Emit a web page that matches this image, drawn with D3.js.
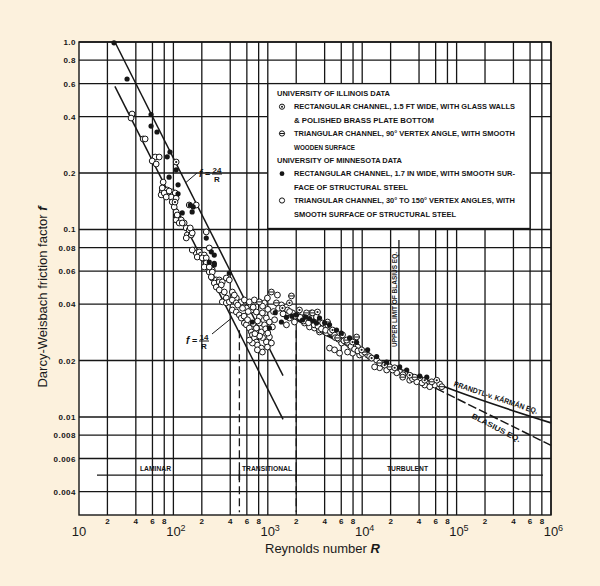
<!DOCTYPE html>
<html>
<head>
<meta charset="utf-8">
<script src="https://cdn.jsdelivr.net/npm/d3@7"></script>
<style>
  html, body { margin: 0; padding: 0; background: #fcf1dd; }
  svg { display: block; }
  .small { font-family: "Liberation Sans", Arial, sans-serif; font-weight: bold; font-size: 8px; fill: #151515; }
  .big { font-family: "Liberation Sans", Arial, sans-serif; fill: #1a1a1a; }
</style>
</head>
<body>
<script>
// Axis ticks
const decades = [10, 100, 1e3, 1e4, 1e5, 1e6];
const decadeSup = ["", "2", "3", "4", "5", "6"];
const minorMult = [2, 4, 6, 8];
const yTicks = [1.0, 0.8, 0.6, 0.4, 0.2, 0.1, 0.08, 0.06, 0.04, 0.02, 0.01, 0.008, 0.006, 0.004];
const yTickLabels = ["1.0", "0.8", "0.6", "0.4", "0.2", "0.1", "0.08", "0.06", "0.04", "0.02", "0.01", "0.008", "0.006", "0.004"];

// University of Minnesota, rectangular channel (filled dots)
const mnRect = [
  [23.5, 0.99], [32.3, 0.635], [58, 0.41], [58, 0.356], [67, 0.331], [86, 0.244], [92, 0.259],
  [107, 0.208], [90, 0.19], [112, 0.155], [112, 0.173], [151, 0.135], [162, 0.132], [124, 0.1225],
  [158, 0.124], [223, 0.09], [252, 0.076], [271, 0.073], [240, 0.067], [271, 0.066], [391, 0.0586],
  [271, 0.0647], [686, 0.0321], [1040, 0.0298], [1394, 0.0321], [2012, 0.035], [2330, 0.0329],
  [3280, 0.0317], [3530, 0.0337], [5348, 0.0291], [7348, 0.0264], [11413, 0.0228], [18156, 0.0196],
  [29600, 0.0178], [48290, 0.0163], [1576, 0.034], [2765, 0.0335], [4507, 0.031], [8723, 0.025],
  [14221, 0.021], [24950, 0.0185], [40680, 0.0165], [1200, 0.036], [1800, 0.0345], [2500, 0.0342],
  [3000, 0.0325], [4000, 0.0318], [6000, 0.028]
];

// University of Illinois, rectangular channel (circle with dot)
const ilRect = [
  [107, 0.229], [104, 0.14], [1696, 0.0406], [2165, 0.0372], [4851, 0.0291], [6193, 0.0274],
  [7911, 0.0251], [9854, 0.0228], [12587, 0.0206], [17290, 0.0189], [22080, 0.0183], [31860, 0.0167],
  [45960, 0.0157], [61640, 0.0157], [3361, 0.0363], [1429, 0.0381]
];

// University of Illinois, triangular channel (circle with bar)
const ilTri = [
  [1092, 0.0464], [1780, 0.0442], [2975, 0.0359], [4293, 0.0321], [5482, 0.0264], [6831, 0.0257],
  [10605, 0.0222], [15299, 0.0194], [19540, 0.0185], [26850, 0.0163], [36000, 0.0163], [54540, 0.0154],
  [69650, 0.0145], [2569, 0.0359], [8723, 0.0267], [814, 0.0411], [1234, 0.0406]
];

// University of Minnesota, triangular channel (open circles)
const mnTri = [
  [36.5, 0.413], [35.6, 0.393], [47.8, 0.304], [50.2, 0.304], [64.1, 0.2435], [70.7, 0.2435],
  [59.6, 0.232], [65.7, 0.2235], [77.9, 0.179], [76.1, 0.1604], [86, 0.1624], [97, 0.1585],
  [104.5, 0.1565], [74.2, 0.153], [94.8, 0.149], [107, 0.147], [76.1, 0.1665], [79.9, 0.1565],
  [90.2, 0.1604], [83.9, 0.149], [97.1, 0.1402], [102, 0.1318], [107, 0.124], [109.7, 0.1166],
  [107, 0.1124], [121, 0.1124], [130, 0.1083], [136.8, 0.1019], [147.1, 0.0994], [140.1, 0.0935],
  [154.5, 0.0935], [136.8, 0.0901], [158.3, 0.0958], [147.1, 0.1351], [174.6, 0.1351], [222.9, 0.097],
  [166.3, 0.0777], [174.6, 0.0749], [187.9, 0.0759], [197.3, 0.0731], [178.9, 0.0713], [212.3, 0.0731],
  [202.2, 0.0705], [222.9, 0.0705], [239.9, 0.0797], [222.9, 0.0663], [228.5, 0.0631], [239.9, 0.0593],
  [258.1, 0.0608], [258.1, 0.0551], [284.7, 0.0538], [306.4, 0.0538], [271.1, 0.0518], [306.4, 0.0525],
  [329.6, 0.0525], [363.5, 0.0551], [391.2, 0.0538], [284.7, 0.0493], [321.7, 0.0506], [464.2, 0.0431],
  [363.5, 0.0431], [421, 0.0464], [109.7, 0.1195], [115.2, 0.1083], [124, 0.1083], [150.8, 0.1019],
  [158.3, 0.0777], [212.3, 0.0631], [239.9, 0.0631], [258.1, 0.0593], [251.9, 0.0558], [306.4, 0.0476],
  [346.2, 0.0464],
  [329.6, 0.0411], [363.5, 0.0406], [391.2, 0.0411], [421, 0.0421], [442.1, 0.0447], [464.2, 0.0406],
  [524.5, 0.0411], [564.4, 0.0421], [637.9, 0.0411], [720.7, 0.0421], [920.3, 0.0406], [990.4, 0.0431],
  [1394, 0.0396], [421, 0.0372], [464.2, 0.0363], [499.4, 0.035], [524.5, 0.0337], [564.4, 0.0317],
  [592.7, 0.031], [637.9, 0.0298], [669.8, 0.0284], [686.4, 0.0274], [720.7, 0.0264], [756.8, 0.0251],
  [775.5, 0.0242], [855.1, 0.0233], [876.4, 0.0222], [775.5, 0.0228], [686.4, 0.0248], [637.9, 0.0257],
  [966.3, 0.0251], [1040, 0.0267], [990.4, 0.0236], [1092, 0.0248], [592.7, 0.0381], [669.8, 0.0372],
  [756.8, 0.0363], [814.4, 0.0341], [876.4, 0.0359], [966.3, 0.0337], [1040, 0.0321], [1119, 0.0302],
  [920.3, 0.031], [814.4, 0.0317], [855.1, 0.0284], [756.8, 0.0298], [1615, 0.0372], [1825, 0.0359],
  [2062, 0.035], [2447, 0.0341], [2633, 0.0329], [2903, 0.0359], [3280, 0.0337], [1696, 0.0337],
  [1916, 0.0321], [1576, 0.031], [2447, 0.0317], [2765, 0.0302], [3123, 0.0298], [3530, 0.0284],
  [1265, 0.0447], [3280, 0.0341], [2903, 0.0321], [3799, 0.0302], [3530, 0.0291], [4188, 0.0281],
  [5093, 0.0274], [6044, 0.0248], [7348, 0.0242], [8938, 0.0236], [9385, 0.0214], [7911, 0.0219],
  [6998, 0.0222], [4507, 0.0233], [5093, 0.0228], [5756, 0.0219], [11413, 0.0214], [14221, 0.0201],
  [24950, 0.0174], [28190, 0.0172], [40680, 0.0161], [58700, 0.0148], [15299, 0.0183], [18156, 0.0178],
  [13540, 0.0185], [23190, 0.0172], [31860, 0.0157], [37800, 0.0154], [45960, 0.0148], [51940, 0.0145],
  [4293, 0.0291], [3799, 0.0317],
  [1300, 0.038], [1450, 0.0355], [1700, 0.0365], [1950, 0.0345], [2200, 0.034], [2400, 0.0325],
  [2700, 0.0318], [3100, 0.031], [3400, 0.0305], [3700, 0.0295], [4100, 0.029], [4600, 0.0285],
  [5200, 0.0265], [5600, 0.026], [6400, 0.0255], [7000, 0.025], [7600, 0.0238], [8300, 0.023],
  [9000, 0.0225], [10000, 0.0218], [12000, 0.021], [16500, 0.0192], [21000, 0.0178], [27000, 0.0168],
  [34000, 0.016], [43000, 0.0152], [66000, 0.015],
  [480, 0.0395], [540, 0.038], [620, 0.0365], [700, 0.0385], [880, 0.039], [1000, 0.0375],
  [1150, 0.0365], [560, 0.0345], [610, 0.033], [700, 0.0315], [780, 0.0325], [950, 0.0295],
  [880, 0.0265], [820, 0.027], [730, 0.0278], [1000, 0.028], [1180, 0.033]
];

// Theory lines
const lam24 = [[24, 1.0], [1450, 0.0166]];
const lam14 = [[24, 0.58], [1450, 0.0097]];
const prandtl = [[2000, 0.0329], [1e4, 0.022], [1e5, 0.0137], [1e6, 0.0093]];
const blasius = [[2000, 0.0333], [1e6, 0.00705]];

// Regime markers
const regimeF = 0.0049;
const regimeSpan = [15.5, 8.2e5];
const regimeBounds = [500, 2000];
const regimeLabels = [["LAMINAR", 140, 31], ["TRANSITIONAL", 242, 50], ["TURBULENT", 387, 41]];
const blasiusLimitR = 24500;

const legendLines = [
  ["UNIVERSITY OF ILLINOIS DATA", null, 113],
  ["RECTANGULAR CHANNEL, 1.5 FT WIDE, WITH GLASS WALLS", "ilRect", 221],
  ["& POLISHED BRASS PLATE BOTTOM", "", 140],
  ["TRIANGULAR CHANNEL, 90° VERTEX ANGLE, WITH SMOOTH", "ilTri", 221],
  ["WOODEN SURFACE", "", 61],
  ["UNIVERSITY OF MINNESOTA DATA", null, 125],
  ["RECTANGULAR CHANNEL, 1.7 IN WIDE, WITH SMOOTH SUR-", "mnRect", 221],
  ["FACE OF STRUCTURAL STEEL", "", 114],
  ["TRIANGULAR CHANNEL, 30° TO 150° VERTEX ANGLES, WITH", "mnTri", 221],
  ["SMOOTH SURFACE OF STRUCTURAL STEEL", "", 162]
];

const w = 600, h = 586;
const ink = "#161616";

const svg = d3.select("body").append("svg")
  .attr("width", w)
  .attr("height", h);

svg.append("rect").attr("width", w).attr("height", h).attr("fill", "#fcf1dd");

const x = d3.scaleLog().domain([10, 1e6]).range([79, 551]);
const y = d3.scaleLog().domain([0.003, 1]).range([515, 42]);

// plot area
svg.append("rect")
  .attr("x", x(10)).attr("y", y(1))
  .attr("width", x(1e6) - x(10)).attr("height", y(0.003) - y(1))
  .attr("fill", "#fff");

// grid
const xGrid = [];
decades.slice(0, -1).forEach(d => {
  minorMult.forEach(m => xGrid.push(d * m));
  xGrid.push(d * 10);
});

svg.append("g").selectAll("line")
  .data(xGrid)
  .enter().append("line")
  .attr("x1", d => x(d)).attr("x2", d => x(d))
  .attr("y1", y(1)).attr("y2", y(0.003))
  .attr("stroke", ink).attr("stroke-width", 1.3);

svg.append("g").selectAll("line")
  .data(yTicks)
  .enter().append("line")
  .attr("x1", x(10)).attr("x2", x(1e6))
  .attr("y1", d => y(d)).attr("y2", d => y(d))
  .attr("stroke", ink).attr("stroke-width", 1.4);

// border
svg.append("rect")
  .attr("x", x(10)).attr("y", y(1))
  .attr("width", x(1e6) - x(10)).attr("height", y(0.003) - y(1))
  .attr("fill", "none").attr("stroke", ink).attr("stroke-width", 1.4);

// y tick labels
svg.append("g").selectAll("text")
  .data(yTicks)
  .enter().append("text")
  .attr("class", "small")
  .attr("x", x(10) - 3)
  .attr("y", d => y(d) + 3)
  .attr("text-anchor", "end")
  .style("letter-spacing", "0.5px")
  .text((d, i) => yTickLabels[i]);

// x minor labels
const xMinor = [];
decades.slice(0, -1).forEach(d => minorMult.forEach(m => xMinor.push([d * m, m])));
svg.append("g").selectAll("text")
  .data(xMinor)
  .enter().append("text")
  .attr("class", "small")
  .attr("x", d => x(d[0]))
  .attr("y", 524)
  .attr("text-anchor", "middle")
  .text(d => d[1]);

// decade labels
const dec = svg.append("g").selectAll("g")
  .data(decades)
  .enter().append("g");
dec.append("text")
  .attr("class", "big")
  .attr("x", d => x(d))
  .attr("y", 536)
  .attr("text-anchor", "middle")
  .style("font-size", "13px")
  .text("10");
dec.append("text")
  .attr("class", "big")
  .attr("x", d => x(d) + 7)
  .attr("y", 531)
  .style("font-size", "9px")
  .text((d, i) => decadeSup[i]);

// axis titles
const xt = svg.append("text")
  .attr("class", "big")
  .attr("x", 265).attr("y", 553)
  .style("font-size", "13px");
xt.append("tspan").text("Reynolds number  ");
xt.append("tspan").style("font-weight", "bold").style("font-style", "italic").text("R");

const yt = svg.append("text")
  .attr("class", "big")
  .attr("transform", "translate(47,297) rotate(-90)")
  .attr("text-anchor", "middle")
  .style("font-size", "13px");
yt.append("tspan").text("Darcy-Weisbach friction factor  ");
yt.append("tspan").style("font-weight", "bold").style("font-style", "italic").text("f");

// theory lines
const line = d3.line().x(d => x(d[0])).y(d => y(d[1]));
svg.append("path").datum(lam24).attr("d", line)
  .attr("fill", "none").attr("stroke", ink).attr("stroke-width", 1.5);
svg.append("path").datum(lam14).attr("d", line)
  .attr("fill", "none").attr("stroke", ink).attr("stroke-width", 1.5);
svg.append("path").datum(blasius).attr("d", line)
  .attr("fill", "none").attr("stroke", ink).attr("stroke-width", 1.5)
  .attr("stroke-dasharray", "9,3");
svg.append("path").datum(prandtl).attr("d", d3.line().curve(d3.curveMonotoneX).x(d => x(d[0])).y(d => y(d[1])))
  .attr("fill", "none").attr("stroke", ink).attr("stroke-width", 1.6);

// transition bounds (dashed)
svg.append("g").selectAll("line")
  .data(regimeBounds)
  .enter().append("line")
  .attr("x1", d => x(d)).attr("x2", d => x(d))
  .attr("y1", y(0.029)).attr("y2", y(0.0031))
  .attr("stroke", ink).attr("stroke-width", 1.3)
  .attr("stroke-dasharray", "8,4");

// regime line
svg.append("line")
  .attr("x1", x(regimeSpan[0])).attr("x2", x(regimeSpan[1]))
  .attr("y1", y(regimeF)).attr("y2", y(regimeF))
  .attr("stroke", ink).attr("stroke-width", 1.3);
svg.append("g").selectAll("line")
  .data(regimeBounds)
  .enter().append("line")
  .attr("x1", d => x(d)).attr("x2", d => x(d))
  .attr("y1", y(regimeF) - 5).attr("y2", y(regimeF) + 5)
  .attr("stroke", ink).attr("stroke-width", 1.5);
svg.append("g").selectAll("text")
  .data(regimeLabels)
  .enter().append("text")
  .attr("class", "small")
  .attr("x", d => d[1])
  .attr("y", y(regimeF) - 4)
  .attr("textLength", d => d[2])
  .attr("lengthAdjust", "spacingAndGlyphs")
  .style("font-size", "7px")
  .text(d => d[0]);

// upper limit of Blasius
svg.append("line")
  .attr("x1", x(blasiusLimitR)).attr("x2", x(blasiusLimitR))
  .attr("y1", y(0.088)).attr("y2", y(0.019))
  .attr("stroke", ink).attr("stroke-width", 1.3);
svg.append("text")
  .attr("class", "small")
  .attr("transform", `translate(${x(blasiusLimitR) - 2},347) rotate(-90)`)
  .attr("textLength", 95)
  .attr("lengthAdjust", "spacingAndGlyphs")
  .style("font-size", "7px")
  .text("UPPER LIMIT OF BLASIUS EQ.");

// equation labels
svg.append("text")
  .attr("class", "small")
  .attr("transform", "translate(495,400) rotate(18.5)")
  .attr("text-anchor", "middle")
  .attr("textLength", 88)
  .attr("lengthAdjust", "spacingAndGlyphs")
  .style("font-size", "7.5px")
  .text("PRANDTL-v. KÁRMÁN EQ.");
svg.append("text")
  .attr("class", "small")
  .attr("transform", "translate(495,430) rotate(27)")
  .attr("text-anchor", "middle")
  .attr("textLength", 54)
  .attr("lengthAdjust", "spacingAndGlyphs")
  .style("font-size", "7.5px")
  .text("BLASIUS EQ.");

// f = 24/R and f = 14/R labels
function fracLabel(fx, fy, num, lead) {
  const g = svg.append("g");
  g.append("text").attr("class", "small")
    .attr("x", fx).attr("y", fy + 3)
    .style("font-size", "10px").style("font-style", "italic").text("f");
  g.append("text").attr("class", "small")
    .attr("x", fx + 6).attr("y", fy + 3)
    .style("font-size", "9px").text("=");
  g.append("text").attr("class", "small")
    .attr("x", fx + 18).attr("y", fy - 1.5)
    .attr("text-anchor", "middle").text(num);
  g.append("line")
    .attr("x1", fx + 13).attr("x2", fx + 23)
    .attr("y1", fy).attr("y2", fy)
    .attr("stroke", ink).attr("stroke-width", 1);
  g.append("text").attr("class", "small")
    .attr("x", fx + 18).attr("y", fy + 8)
    .attr("text-anchor", "middle").text("R");
  g.append("line")
    .attr("x1", lead[0]).attr("y1", lead[1])
    .attr("x2", lead[2]).attr("y2", lead[3])
    .attr("stroke", ink).attr("stroke-width", 1);
}
fracLabel(199, 174, "24", [197, 173, x(135), y(24 / 135)]);
fracLabel(186, 341, "14", [212, 334, x(415), y(14 / 415)]);

// data points
const pts = svg.append("g");
const r = 2.9;
pts.selectAll(".mnTri").data(mnTri).enter().append("circle")
  .attr("class", "mnTri")
  .attr("cx", d => x(d[0])).attr("cy", d => y(d[1])).attr("r", r)
  .attr("fill", "#fff").attr("stroke", ink).attr("stroke-width", 1);

const tri = pts.selectAll(".ilTri").data(ilTri).enter().append("g")
  .attr("class", "ilTri")
  .attr("transform", d => `translate(${x(d[0])},${y(d[1])})`);
tri.append("circle").attr("r", r).attr("fill", "#fff").attr("stroke", ink).attr("stroke-width", 1);
tri.append("line").attr("x1", -r).attr("x2", r).attr("stroke", ink).attr("stroke-width", 1);

const rec = pts.selectAll(".ilRect").data(ilRect).enter().append("g")
  .attr("class", "ilRect")
  .attr("transform", d => `translate(${x(d[0])},${y(d[1])})`);
rec.append("circle").attr("r", r).attr("fill", "#fff").attr("stroke", ink).attr("stroke-width", 1);
rec.append("circle").attr("r", 1.1).attr("fill", ink);

pts.selectAll(".mnRect").data(mnRect).enter().append("circle")
  .attr("class", "mnRect")
  .attr("cx", d => x(d[0])).attr("cy", d => y(d[1])).attr("r", 2.6)
  .attr("fill", ink);

// legend
svg.append("rect")
  .attr("x", x(1000)).attr("y", y(0.6))
  .attr("width", x(6e5) - x(1000)).attr("height", y(0.1) - y(0.6) - 1)
  .attr("fill", "#fff").attr("stroke", ink).attr("stroke-width", 1.3);

const lg = svg.append("g").selectAll("g")
  .data(legendLines)
  .enter().append("g")
  .attr("transform", (d, i) => `translate(0,${96 + i * 13.4})`);
lg.append("text")
  .attr("class", "small")
  .attr("x", d => d[1] === null ? 277 : 294)
  .attr("y", 0)
  .attr("textLength", d => d[2])
  .attr("lengthAdjust", "spacingAndGlyphs")
  .style("font-size", "7.5px")
  .text(d => d[0]);

lg.each(function(d) {
  const g = d3.select(this);
  const cx = 282, cy = -2.7;
  if (d[1] === "mnRect") {
    g.append("circle").attr("cx", cx).attr("cy", cy).attr("r", 2.4).attr("fill", ink);
  } else if (d[1] === "mnTri" || d[1] === "ilTri" || d[1] === "ilRect") {
    g.append("circle").attr("cx", cx).attr("cy", cy).attr("r", 2.6)
      .attr("fill", "#fff").attr("stroke", ink).attr("stroke-width", 1);
    if (d[1] === "ilTri") {
      g.append("line").attr("x1", cx - 2.6).attr("x2", cx + 2.6)
        .attr("y1", cy).attr("y2", cy).attr("stroke", ink).attr("stroke-width", 1);
    }
    if (d[1] === "ilRect") {
      g.append("circle").attr("cx", cx).attr("cy", cy).attr("r", 1).attr("fill", ink);
    }
  }
});
</script>
</body>
</html>
